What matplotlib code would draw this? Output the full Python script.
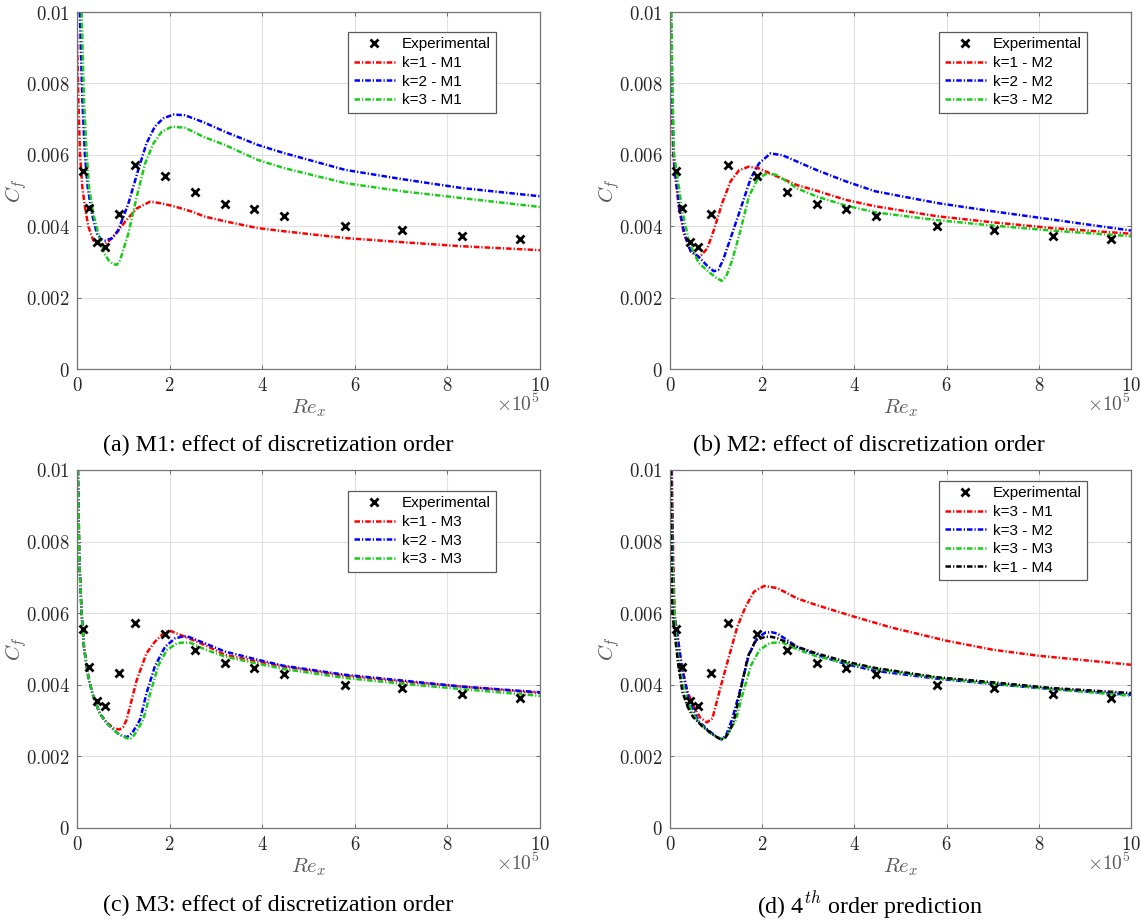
import numpy as np
import matplotlib
matplotlib.use('Agg')
import matplotlib.pyplot as plt
from matplotlib.ticker import FuncFormatter

plt.rcParams['mathtext.fontset'] = 'cm'

# data eksperimen (Re_x dalam satuan 1e5)
exp_x = [0.14, 0.26, 0.44, 0.60, 0.90, 1.26, 1.89, 2.54, 3.19, 3.82, 4.47, 5.79, 7.02, 8.31, 9.56]
exp_cf = [0.00556, 0.00450, 0.00356, 0.00342, 0.00433, 0.00572, 0.00541, 0.00496, 0.00462,
          0.00447, 0.00429, 0.00400, 0.00390, 0.00374, 0.00364]

# (a) M1
k1m1_x = [0.0, 0.03, 0.065, 0.115, 0.17, 0.245, 0.35, 0.45, 0.57, 0.7, 0.82, 1.04, 1.29, 1.58,
          1.83, 2.12, 2.48, 2.76, 3.19, 3.9, 4.47, 5.79, 7.07, 8.31, 10.0]
k1m1_cf = [0.0094, 0.00753, 0.00601, 0.0051, 0.00455, 0.00399, 0.00361, 0.0035, 0.00347, 0.0036,
           0.00375, 0.00413, 0.0045, 0.00469, 0.00464, 0.00455, 0.00441, 0.00427, 0.00414, 0.00395,
           0.00386, 0.00367, 0.00355, 0.00344, 0.00333]
k2m1_x = [0.06, 0.115, 0.17, 0.23, 0.32, 0.43, 0.52, 0.6, 0.75, 0.89, 1.11, 1.32, 1.5, 1.68, 1.86,
          2.08, 2.33, 2.76, 3.19, 3.9, 4.47, 5.79, 7.02, 8.31, 10.0]
k2m1_cf = [0.01, 0.00753, 0.00601, 0.0051, 0.00436, 0.00379, 0.00364, 0.0036, 0.00366, 0.00389,
           0.00464, 0.00557, 0.00632, 0.00679, 0.00702, 0.00713, 0.00711, 0.0069, 0.00665, 0.00628,
           0.00605, 0.00558, 0.00532, 0.00507, 0.00484]
k3m1_x = [0.10, 0.15, 0.21, 0.26, 0.35, 0.46, 0.59, 0.68, 0.78, 0.86, 0.93, 1.11, 1.29, 1.47, 1.65,
          1.83, 2.05, 2.33, 2.76, 3.19, 3.9, 4.47, 5.79, 7.02, 8.31, 10.0]
k3m1_cf = [0.01, 0.00753, 0.00601, 0.0051, 0.00436, 0.00379, 0.00324, 0.00305, 0.00294, 0.00292,
           0.00305, 0.0038, 0.00483, 0.00576, 0.00632, 0.00665, 0.00679, 0.00676, 0.00649, 0.00628,
           0.00586, 0.00563, 0.00521, 0.00498, 0.00479, 0.00454]

# (b) M2
k1m2_x = [0.01, 0.04, 0.07, 0.10, 0.19, 0.30, 0.45, 0.63, 0.81, 0.95, 1.13, 1.31, 1.5, 1.71, 1.93,
          2.26, 2.76, 3.17, 3.81, 4.45, 5.8, 7.0, 8.28, 10.0]
k1m2_cf = [0.01, 0.0075, 0.006, 0.00556, 0.00455, 0.0038, 0.0033, 0.00312, 0.00338, 0.00389,
           0.00464, 0.00525, 0.00557, 0.00567, 0.00562, 0.00543, 0.00515, 0.005, 0.00474, 0.00456,
           0.00428, 0.00411, 0.00395, 0.00379]
k2m2_x = [0.02, 0.05, 0.08, 0.11, 0.2, 0.31, 0.45, 0.62, 0.8, 0.95, 1.05, 1.15, 1.35, 1.57, 1.75,
          1.93, 2.18, 2.44, 2.76, 3.17, 3.81, 4.45, 5.8, 7.0, 8.28, 10.0]
k2m2_cf = [0.01, 0.0075, 0.006, 0.00556, 0.00455, 0.0038, 0.0033, 0.00315, 0.0029, 0.00274,
           0.00278, 0.00305, 0.0038, 0.00464, 0.00534, 0.00576, 0.00604, 0.00599, 0.00581, 0.00558,
           0.00526, 0.00498, 0.00465, 0.00442, 0.00419, 0.00388]
k3m2_x = [0.03, 0.06, 0.09, 0.14, 0.26, 0.42, 0.62, 0.86, 1.0, 1.12, 1.22, 1.35, 1.53, 1.71, 1.89,
          2.07, 2.2, 2.33, 2.76, 3.17, 3.81, 4.45, 5.8, 7.0, 8.28, 10.0]
k3m2_cf = [0.01, 0.0075, 0.006, 0.00558, 0.00447, 0.00353, 0.00298, 0.0027, 0.00256, 0.00247,
           0.0026, 0.00305, 0.00389, 0.00483, 0.0053, 0.00546, 0.00547, 0.00543, 0.00506, 0.00484,
           0.00458, 0.00439, 0.00417, 0.00402, 0.00388, 0.00372]

# (c) M3
k1m3_x = [0.02, 0.05, 0.10, 0.15, 0.23, 0.33, 0.49, 0.64, 0.8, 0.92, 1.0, 1.07, 1.29, 1.5, 1.68,
          1.9, 2.03, 2.12, 2.41, 2.76, 3.19, 3.9, 4.47, 5.79, 7.02, 8.31, 10.0]
k1m3_cf = [0.01, 0.00749, 0.00597, 0.00506, 0.00432, 0.00376, 0.0032, 0.00295, 0.00278, 0.00275,
           0.00283, 0.00302, 0.00413, 0.00488, 0.0052, 0.00548, 0.0055, 0.00545, 0.0053, 0.00511,
           0.00484, 0.00465, 0.00451, 0.00425, 0.00409, 0.00395, 0.00377]
k2m3_x = [0.02, 0.05, 0.10, 0.15, 0.23, 0.33, 0.49, 0.64, 0.87, 1.0, 1.08, 1.19, 1.36, 1.5, 1.68,
          1.9, 2.12, 2.3, 2.41, 2.76, 3.19, 3.9, 4.47, 5.79, 7.02, 8.31, 10.0]
k2m3_cf = [0.01, 0.00749, 0.00597, 0.00506, 0.00432, 0.00376, 0.0032, 0.00293, 0.00265, 0.00256,
           0.00254, 0.00265, 0.00302, 0.00376, 0.00451, 0.00506, 0.0053, 0.00535, 0.00534, 0.00516,
           0.00493, 0.0047, 0.00453, 0.00428, 0.00412, 0.00395, 0.00379]
k3m3_x = [0.02, 0.05, 0.10, 0.15, 0.23, 0.33, 0.49, 0.64, 0.87, 1.05, 1.15, 1.25, 1.43, 1.58, 1.76,
          1.94, 2.16, 2.3, 2.44, 2.76, 3.19, 3.9, 4.47, 5.79, 7.02, 8.31, 10.0]
k3m3_cf = [0.01, 0.00749, 0.00597, 0.00506, 0.00432, 0.00376, 0.0032, 0.00293, 0.00265, 0.00252,
           0.00248, 0.00262, 0.00302, 0.00376, 0.00455, 0.00497, 0.00516, 0.00518, 0.00518, 0.00499,
           0.00479, 0.00459, 0.00444, 0.00419, 0.00403, 0.00388, 0.00369]

# (d) prediksi orde 4
k3m1d_x = [0.04, 0.07, 0.10, 0.14, 0.25, 0.38, 0.52, 0.65, 0.8, 0.92, 1.1, 1.28, 1.46, 1.64, 1.82,
           2.04, 2.33, 2.76, 3.17, 4.0, 4.8, 6.0, 7.0, 8.0, 10.0]
k3m1d_cf = [0.01, 0.0075, 0.006, 0.00556, 0.00455, 0.0038, 0.00339, 0.00309, 0.00295, 0.00306,
            0.00395, 0.00479, 0.00562, 0.00618, 0.0066, 0.00676, 0.0067, 0.00641, 0.00623, 0.0059,
            0.0056, 0.00523, 0.00498, 0.00481, 0.00456]
k1m4_x = [0.02, 0.03, 0.05, 0.09, 0.18, 0.27, 0.38, 0.5, 0.7, 0.94, 1.1, 1.2, 1.3, 1.39, 1.53, 1.69,
          1.86, 2.07, 2.2, 2.33, 2.76, 3.17, 3.81, 4.45, 5.8, 7.0, 8.28, 10.0]
k1m4_cf = [0.01, 0.0078, 0.006, 0.00556, 0.00455, 0.0038, 0.00339, 0.0031, 0.00284, 0.0026, 0.00247,
           0.00252, 0.00272, 0.00302, 0.00385, 0.00479, 0.00525, 0.00534, 0.00534, 0.0053, 0.00506,
           0.00488, 0.00465, 0.00447, 0.00421, 0.00407, 0.00391, 0.00377]

RED = (1, 0, 0)
BLUE = (0, 0, 1)
GREEN = (0.1, 0.8, 0.1)
BLACK = (0, 0, 0)

panels = [
    {'pos': [0.0675, 0.5993, 0.4058, 0.3876], 'leg_top': 0.944,
     'caption': '(a) M1: effect of discretization order', 'cap_xy': (278, 445),
     'lines': [(k1m1_x, k1m1_cf, RED, 'k=1 - M1'), (k2m1_x, k2m1_cf, BLUE, 'k=2 - M1'),
               (k3m1_x, k3m1_cf, GREEN, 'k=3 - M1')]},
    {'pos': [0.5872, 0.5993, 0.4040, 0.3876], 'leg_top': 0.944,
     'caption': '(b) M2: effect of discretization order', 'cap_xy': (869, 445),
     'lines': [(k1m2_x, k1m2_cf, RED, 'k=1 - M2'), (k2m2_x, k2m2_cf, BLUE, 'k=2 - M2'),
               (k3m2_x, k3m2_cf, GREEN, 'k=3 - M2')]},
    {'pos': [0.0675, 0.1010, 0.4058, 0.3887], 'leg_top': 0.941,
     'caption': '(c) M3: effect of discretization order', 'cap_xy': (278, 905),
     'lines': [(k1m3_x, k1m3_cf, RED, 'k=1 - M3'), (k2m3_x, k2m3_cf, BLUE, 'k=2 - M3'),
               (k3m3_x, k3m3_cf, GREEN, 'k=3 - M3')]},
    {'pos': [0.5872, 0.1010, 0.4040, 0.3887], 'leg_top': 0.969,
     'caption': r'(d) 4$^{th}$ order prediction', 'cap_xy': (870, 905),
     'lines': [(k3m1d_x, k3m1d_cf, RED, 'k=3 - M1'), (k3m2_x, k3m2_cf, BLUE, 'k=3 - M2'),
               (k3m3_x, k3m3_cf, GREEN, 'k=3 - M3'), (k1m4_x, k1m4_cf, BLACK, 'k=1 - M4')]},
]

fig = plt.figure(figsize=(11.41, 9.21), dpi=100)
fmt = FuncFormatter(lambda v, p: '$%g$' % round(v, 6))

for p in panels:
    ax = fig.add_axes(p['pos'])
    ax.plot(exp_x, exp_cf, 'x', color='k', ms=5.5, mew=2.0, label='Experimental', zorder=5)
    for x, y, c, lab in p['lines']:
        ax.plot(x, y, color=c, lw=1.8, dashes=(2.2, 0.8, 0.5, 0.8), label=lab)

    ax.set_xlim(0, 10)
    ax.set_ylim(0, 0.01)
    ax.set_xticks(np.arange(0, 11, 2))
    ax.set_yticks(np.arange(0, 0.0101, 0.002))
    ax.xaxis.set_major_formatter(fmt)
    ax.yaxis.set_major_formatter(fmt)
    ax.tick_params(direction='in', length=3, width=0.6, top=True, right=True,
                   labelsize=13.5, colors='0.35', labelcolor='0.15', pad=5)
    ax.grid(True, color='0.88', lw=0.8)
    ax.set_axisbelow(True)
    for s in ax.spines.values():
        s.set_color('0.45')
        s.set_linewidth(0.9)

    ax.set_xlabel(r'$Re_x$', fontsize=15, color='0.35', va='center')
    ax.xaxis.set_label_coords(0.5, -0.109)
    ax.set_ylabel(r'$C_f$', fontsize=15, color='0.35', va='center', ha='center')
    ax.yaxis.set_label_coords(-0.131, 0.5)
    ax.text(1.0, -0.10, r'$\times10^5$', transform=ax.transAxes, ha='right', va='center',
            fontsize=14, color='0.35')

    leg = ax.legend(loc='upper right', bbox_to_anchor=(0.905, p['leg_top']), borderaxespad=0,
                    prop={'family': 'Liberation Sans', 'size': 11}, fancybox=False,
                    edgecolor='0.35', framealpha=1, handlelength=2.7, handletextpad=0.45,
                    labelspacing=0.3, borderpad=0.35)
    leg.get_frame().set_linewidth(0.9)

    cx, cy = p['cap_xy']
    fig.text(cx / 1141, 1 - cy / 921, p['caption'], ha='center', va='center',
             fontsize=17.3, family='Liberation Serif')

fig.savefig('out.png', dpi=100)
